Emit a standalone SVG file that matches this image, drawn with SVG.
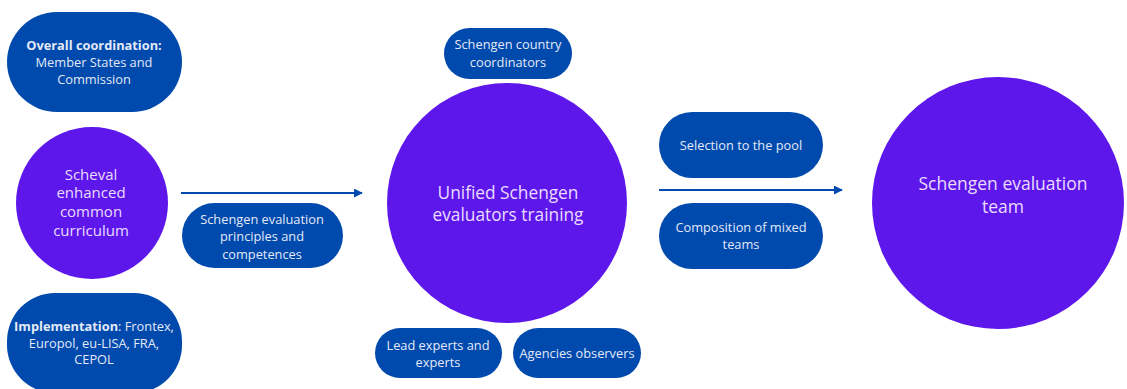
<svg xmlns="http://www.w3.org/2000/svg" width="1127" height="389" viewBox="0 0 1127 389">
<style>
.pill{fill:#004AAD}
.circ{fill:#5E17EB}
text{font-family:"Open Sans","Liberation Sans",sans-serif;text-anchor:middle}
.pt{fill:#e4e9f7;font-size:12.8px}
.ct{fill:#eadcff}
.b{font-weight:bold}
.conn{stroke:#004AAD;stroke-width:2;fill:none}
</style>
<defs>
<marker id="ah" viewBox="0 0 10 10" refX="9" refY="5" markerWidth="4.5" markerHeight="4.5" orient="auto">
<path d="M0,0 L10,5 L0,10 z" fill="#004AAD"/>
</marker>
</defs>
<rect width="1127" height="389" fill="#ffffff"/>
<g id="connectors">
<line class="conn" x1="181" y1="193" x2="362" y2="193" marker-end="url(#ah)"/>
<line class="conn" x1="659" y1="190" x2="842" y2="190" marker-end="url(#ah)"/>
</g>
<g id="overall">
<rect class="pill" x="7" y="12" width="175" height="100" rx="50"/>
<text class="pt" x="94" y="50"><tspan class="b">Overall coordination:</tspan></text>
<text class="pt" x="94" y="67">Member States and</text>
<text class="pt" x="94" y="84">Commission</text>
</g>
<g id="scheval">
<circle class="circ" cx="92" cy="203" r="76"/>
<text class="ct" font-size="15" x="91" y="180">Scheval</text>
<text class="ct" font-size="15" x="91" y="198">enhanced</text>
<text class="ct" font-size="15" x="91" y="217">common</text>
<text class="ct" font-size="15" x="91" y="236">curriculum</text>
</g>
<g id="implementation">
<rect class="pill" x="7" y="293" width="175" height="100" rx="48"/>
<text class="pt" x="94" y="331"><tspan class="b">Implementation</tspan>: Frontex,</text>
<text class="pt" x="94" y="348">Europol, eu-LISA, FRA,</text>
<text class="pt" x="94" y="364">CEPOL</text>
</g>
<g id="principles">
<rect class="pill" x="182" y="203" width="161" height="65" rx="32.5"/>
<text class="pt" x="262" y="224">Schengen evaluation</text>
<text class="pt" x="262" y="241">principles and</text>
<text class="pt" x="262" y="259">competences</text>
</g>
<g id="unified">
<circle class="circ" cx="507" cy="203" r="120"/>
<text class="ct" font-size="17.3" x="508" y="199">Unified Schengen</text>
<text class="ct" font-size="17.3" x="508" y="221">evaluators training</text>
</g>
<g id="coordinators">
<rect class="pill" x="444" y="28" width="128" height="51" rx="25.5"/>
<text class="pt" x="508" y="49">Schengen country</text>
<text class="pt" x="508" y="67">coordinators</text>
</g>
<g id="lead">
<rect class="pill" x="375" y="328" width="127" height="50" rx="25"/>
<text class="pt" x="438" y="350">Lead experts and</text>
<text class="pt" x="438" y="367">experts</text>
</g>
<g id="agencies">
<rect class="pill" x="513" y="328" width="128" height="50" rx="25"/>
<text class="pt" x="577" y="358">Agencies observers</text>
</g>
<g id="selection">
<rect class="pill" x="659" y="112" width="164" height="66" rx="33"/>
<text class="pt" x="741" y="150">Selection to the pool</text>
</g>
<g id="composition">
<rect class="pill" x="659" y="203" width="164" height="66" rx="33"/>
<text class="pt" x="741" y="232">Composition of mixed</text>
<text class="pt" x="741" y="249">teams</text>
</g>
<g id="team">
<circle class="circ" cx="998" cy="203" r="126"/>
<text class="ct" font-size="17.5" x="1003" y="190">Schengen evaluation</text>
<text class="ct" font-size="17.5" x="1003" y="213">team</text>
</g>
</svg>
